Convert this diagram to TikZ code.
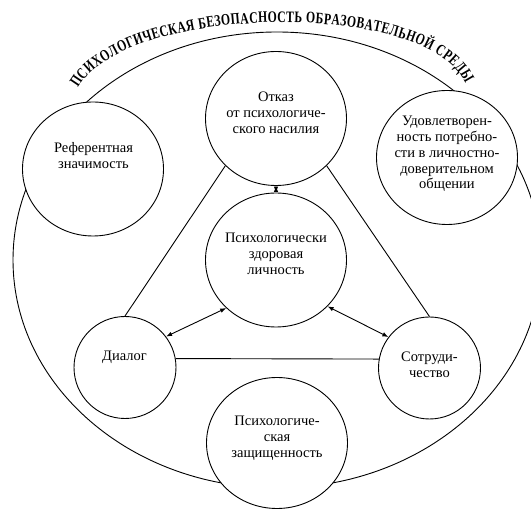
\documentclass[tikz,border=0pt]{standalone}
\usepackage{fontspec}
\setmainfont{Liberation Serif}
\newfontfamily\titlefont{Liberation Serif}[FakeStretch=0.73]
\usetikzlibrary{shapes.geometric,arrows.meta,decorations.text}
\begin{document}
\begin{tikzpicture}[x=1pt,y=1pt,
  bigc/.style={ellipse,draw,fill=white,line width=0.9pt,minimum width=141pt,minimum height=134pt,inner sep=0pt},
  smallc/.style={circle,draw,fill=white,line width=0.9pt,minimum size=102pt,inner sep=0pt},
  txt/.style={align=center,font=\fontsize{14.5}{15.8}\selectfont,inner sep=0pt},
  conn/.style={line width=0.9pt},
  biarrow/.style={line width=0.9pt,{Latex[length=6pt,width=4.5pt]}-{Latex[length=6pt,width=4.5pt]}}]
\useasboundingbox (0,0) rectangle (531,509);
\clip (0,0) rectangle (531,509);
% outer ellipse
\draw[line width=0.9pt] (277,249) ellipse [x radius=264, y radius=228];
% title along arc
\coordinate (ts) at (78,421);
\coordinate (te) at (465,426);
\path[decorate,decoration={text along path,
  text format delimiters={|}{|},
  text={|\titlefont\bfseries\fontsize{16}{16}\selectfont|ПСИХОЛОГИЧЕСКАЯ БЕЗОПАСНОСТЬ ОБРАЗОВАТЕЛЬНОЙ СРЕДЫ},
  text align={fit to path}}]
  (ts) .. controls (125,505) and (428,510) .. (te);
% circles
\node[bigc] (otkaz) at (276,390.5) {};
\node[bigc] (refer) at (93,340) {};
\node[bigc] (udovl) at (447,351.5) {};
\node[bigc] (health) at (276,249) {};
\node[bigc,minimum height=131pt] (zasch) at (277,66) {};
\node[smallc] (dialog) at (125,141.5) {};
\node[smallc] (sotr) at (429.5,141) {};
% texts
\node[txt] (t1) at (276,396) {Отказ\\от психологиче-\\ского насилия};
\node[txt] (t2) at (93.5,353.5) {Референтная\\значимость};
\node[txt] (t3) at (447,355) {Удовлетворен-\\ность потребно-\\сти в личностно-\\доверительном\\общении};
\node[txt] (t4) at (276,255) {Психологически\\здоровая\\личность};
\node[txt] (t5) at (124.5,152) {Диалог};
\node[txt] (t6) at (429.5,144.5) {Сотруди-\\чество};
\node[txt] (t7) at (277,71) {Психологиче-\\ская\\защищенность};
% connectors
\draw[conn] (otkaz.223) -- (dialog.north);
\draw[conn] (otkaz.317) -- (sotr.north);
\draw[conn] (dialog.10) -- (sotr.170);
\draw[biarrow] (otkaz.south) -- (health.north);
\draw[biarrow] (dialog.37) -- (health.224);
\draw[biarrow] (health.318) -- (sotr.143);
\end{tikzpicture}
\end{document}
